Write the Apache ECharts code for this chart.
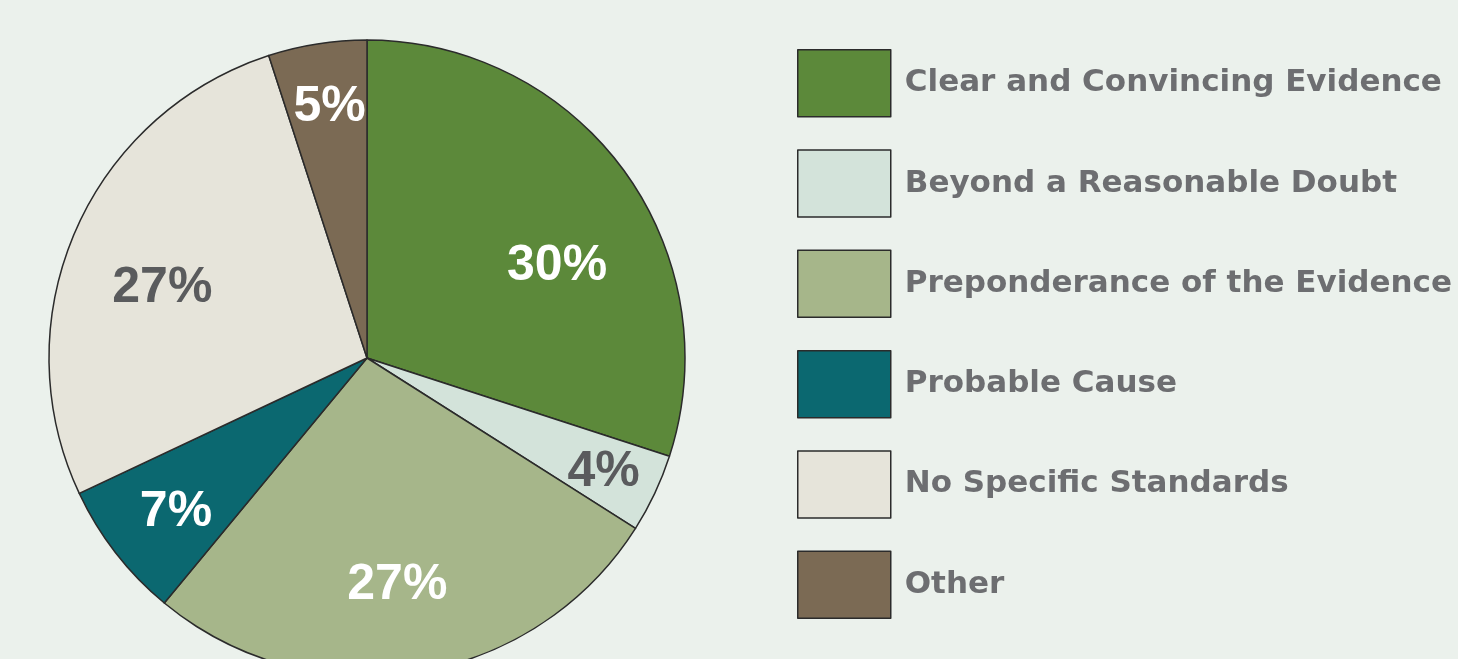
<!DOCTYPE html>
<html><head><meta charset="utf-8">
<script src="https://cdn.jsdelivr.net/npm/echarts@6/dist/echarts.min.js"></script>
<style>html,body{margin:0;padding:0;background:#ebf1ec;}#c{width:1458px;height:659px;}</style>
</head><body><div id="c"></div>
<script>
const categories = ['Clear and Convincing Evidence','Beyond a Reasonable Doubt','Preponderance of the Evidence','Probable Cause','No Specific Standards','Other'];
const values = [30, 4, 27, 7, 27, 5];

const colors = ['#5c893a','#d3e3da','#a6b68a','#0b6870','#e6e4da','#7b6a54'];
const labelColors = ['#ffffff','#5a5b5d','#ffffff','#ffffff','#5a5b5d','#ffffff'];
const labelOffsets = [[59,3],[90,45],[5,67],[-63,55],[-56,-5],[-12,-91]];

const chart = echarts.init(document.getElementById('c'), null, {renderer:'canvas'});
chart.setOption({
  backgroundColor:'#ebf1ec',
  animation:false,
  legend:{
    orient:'vertical', left:792, top:44,
    itemWidth:93, itemHeight:67, itemGap:31.8,
    icon:'rect',
    itemStyle:{borderColor:'#2b2b2b', borderWidth:1.5},
    textStyle:{fontFamily:'DejaVu Sans', fontWeight:'bold', fontSize:31, color:'#6d6e71', padding:[0,0,0,9]},
    data:categories, selectedMode:false
  },
  series:[{
    type:'pie', center:[367,358], radius:318, startAngle:90, clockwise:true,
    avoidLabelOverlap:false,
    itemStyle:{borderColor:'#2b2b2b', borderWidth:1.5},
    label:{show:true, position:'inside', formatter:'{c}%', fontFamily:'Liberation Sans', fontWeight:'bold', fontSize:50},
    labelLine:{show:false},
    emphasis:{disabled:true},
    data: categories.map((n,i)=>({name:n, value:values[i], itemStyle:{color:colors[i]}, label:{color:labelColors[i], offset:labelOffsets[i]}}))
  }]
});
</script></body></html>
